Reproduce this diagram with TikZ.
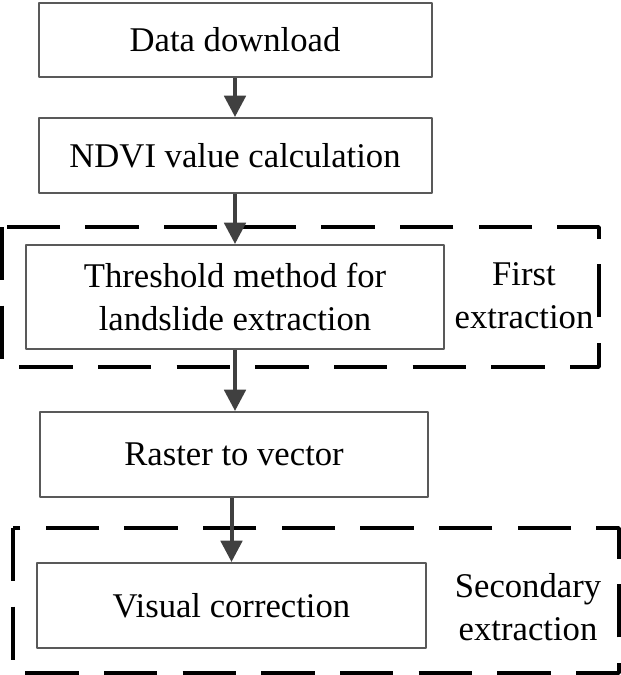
\documentclass[tikz,border=0pt]{standalone}
\usepackage{fontspec}
\setmainfont{Liberation Serif}
\usetikzlibrary{arrows.meta}
\definecolor{boxgray}{HTML}{595959}
\definecolor{arrgray}{HTML}{404040}
\begin{document}
\begin{tikzpicture}[x=0.75pt, y=-0.75pt, line join=round,
	font=\fontsize{26}{32}\selectfont,
	box/.style={draw=boxgray, line width=1.5pt, align=center, inner sep=0pt},
	arr/.style={draw=arrgray, line width=3pt, -{Triangle[length=16pt,width=16pt]}},
	group/.style={draw=black, line width=2.6pt, dash pattern=on 40pt off 19pt}]
			\def\px{0.75pt} % 1 pixel
			\useasboundingbox (0,0) rectangle (621,675);
			\draw[group] (2,227) rectangle (599,367);
			\draw[group] (13,528) rectangle (619,673);
			\node[box, minimum width=393*\px, minimum height=74*\px] (data) at (235,40) {Data download};
			\node[box, minimum width=393*\px, minimum height=75*\px] (ndvi) at (235,155.5) {NDVI value calculation};
			\node[box, minimum width=418*\px, minimum height=104*\px] (thres) at (235,297) {Threshold method for\\landslide extraction};
			\node[box, minimum width=388*\px, minimum height=85*\px] (raster) at (234,454.5) {Raster to vector};
			\node[box, minimum width=389*\px, minimum height=85*\px] (visual) at (231.5,605.5) {Visual correction};
			\node[align=center] (first) at (524,296) {First\\extraction};
			\node[align=center] (second) at (528,607) {Secondary\\extraction};
			\draw[arr] (data) -- (ndvi);
			\draw[arr] (ndvi) -- (thres);
			\draw[arr] (thres.south) -- (thres.south |- raster.north);
			\draw[arr] (raster.south -| visual) -- (visual);
\end{tikzpicture}
\end{document}
